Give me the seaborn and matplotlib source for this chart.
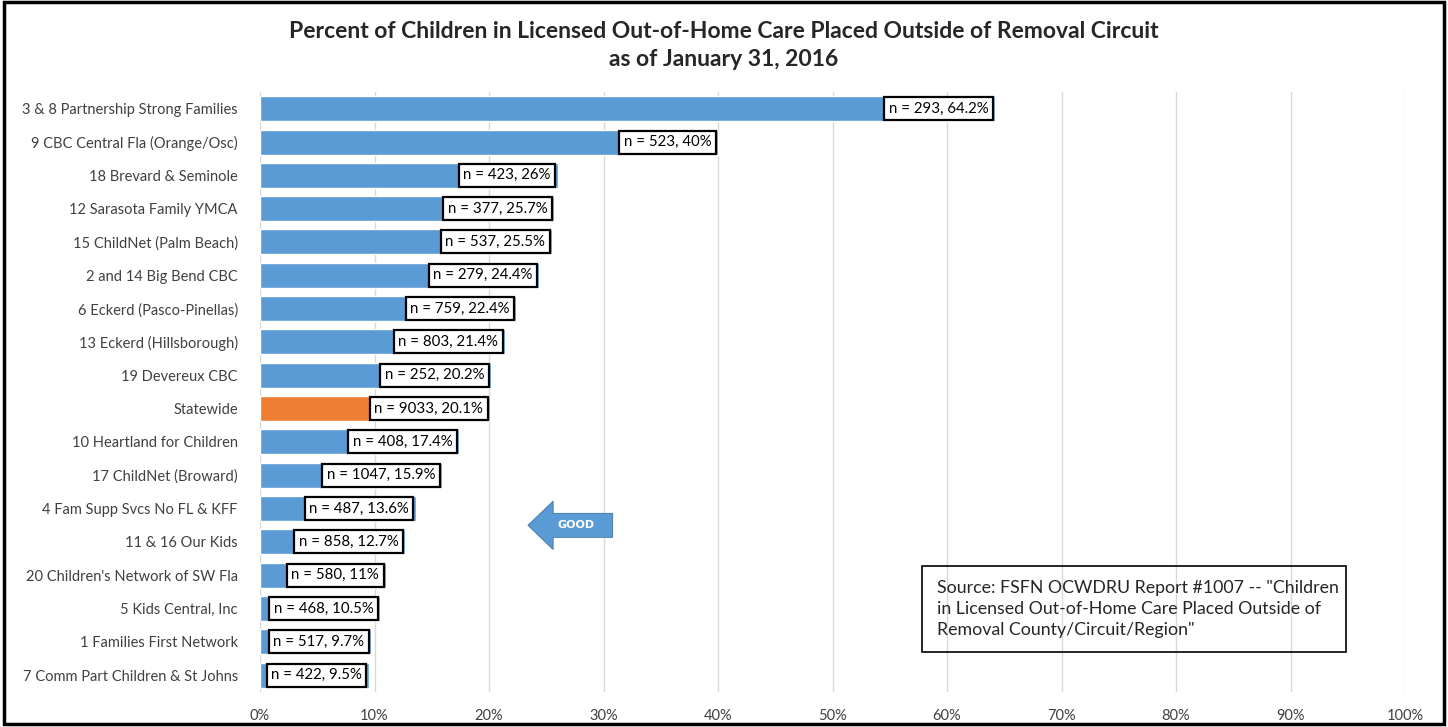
import pandas as pd
import matplotlib.pyplot as plt
import seaborn as sns
from matplotlib.patches import Rectangle, FancyArrow

regions = ["3 & 8 Partnership Strong Families", "9 CBC Central Fla (Orange/Osc)",
           "18 Brevard & Seminole", "12 Sarasota Family YMCA", "15 ChildNet (Palm Beach)",
           "2 and 14 Big Bend CBC", "6 Eckerd (Pasco-Pinellas)", "13 Eckerd (Hillsborough)",
           "19 Devereux CBC", "Statewide", "10 Heartland for Children", "17 ChildNet (Broward)",
           "4 Fam Supp Svcs No FL & KFF", "11 & 16 Our Kids", "20 Children's Network of SW Fla",
           "5 Kids Central, Inc", "1 Families First Network", "7 Comm Part Children & St Johns"]
counts = [293, 523, 423, 377, 537, 279, 759, 803, 252, 9033, 408, 1047, 487, 858, 580, 468, 517, 422]
percents = [64.2, 40, 26, 25.7, 25.5, 24.4, 22.4, 21.4, 20.2, 20.1, 17.4, 15.9, 13.6, 12.7, 11, 10.5, 9.7, 9.5]

df = pd.DataFrame({"Region": regions, "n": counts, "Pct": percents})

sns.set_style("white")
plt.rcParams['font.family'] = ['Lato', 'DejaVu Sans']

fig = plt.figure(figsize=(14.48, 7.27), dpi=100)
ax = fig.add_axes([260 / 1448, 1 - 692 / 727, 1145 / 1448, 600 / 727])

colors = ["#ED7D31" if r == "Statewide" else "#5B9BD5" for r in regions]
sns.barplot(data=df, x="Pct", y="Region", hue="Region", palette=colors, legend=False,
            width=0.75, saturation=1, ax=ax, zorder=2)

for i, row in df.iterrows():
    ax.text(row["Pct"] - 0.6, i, f"n = {row['n']}, {row['Pct']:g}%", ha="right", va="center",
            fontsize=10.8, color="black", zorder=4,
            bbox=dict(boxstyle="square,pad=0.3", fc="white", ec="black", lw=1.6))

ax.set_xlim(0, 100)
ax.set_xticks(range(0, 101, 10))
ax.set_xticklabels([f"{t}%" for t in range(0, 101, 10)])
ax.grid(axis="x", color="#D9D9D9", lw=1, zorder=0)
ax.set_axisbelow(True)
for s in ax.spines.values():
    s.set_visible(False)
ax.tick_params(axis="both", length=0, labelsize=10.5, labelcolor="#404040")
ax.tick_params(axis="x", pad=12)
ax.tick_params(axis="y", pad=16)
ax.set_xlabel("")
ax.set_ylabel("")

# GOOD arrow
ax.add_patch(FancyArrow(30.8, 12.5, -7.4, 0, width=0.72, head_width=1.45, head_length=2.2,
                        length_includes_head=True, fc="#5B9BD5", ec="#41719C", lw=0.6, zorder=3))
ax.text(27.6, 12.5, "GOOD", color="white", fontsize=8, fontweight="bold",
        family="DejaVu Sans", ha="center", va="center", zorder=4)

# source box
fig.text(937 / 1448, 1 - 609 / 727,
         "Source: FSFN OCWDRU Report #1007 -- \"Children\nin Licensed Out-of-Home Care Placed Outside of\nRemoval County/Circuit/Region\"",
         fontsize=12.8, ha="left", va="center", linespacing=1.35)
fig.add_artist(Rectangle((922 / 1448, 1 - 652 / 727), 424 / 1448, 86 / 727,
                         transform=fig.transFigure, fill=False, ec="black", lw=1.2))

fig.text(0.5, 1 - 31 / 727, "Percent of Children in Licensed Out-of-Home Care Placed Outside of Removal Circuit",
         ha="center", va="center", fontsize=16.5, fontweight="bold")
fig.text(0.5, 1 - 59 / 727, "as of January 31, 2016", ha="center", va="center",
         fontsize=16.5, fontweight="bold")

fig.add_artist(Rectangle((4 / 1448, 3 / 727), 1440 / 1448, 722 / 727, transform=fig.transFigure,
                         fill=False, ec="black", lw=2.5))

plt.savefig("out.png", dpi=100)
